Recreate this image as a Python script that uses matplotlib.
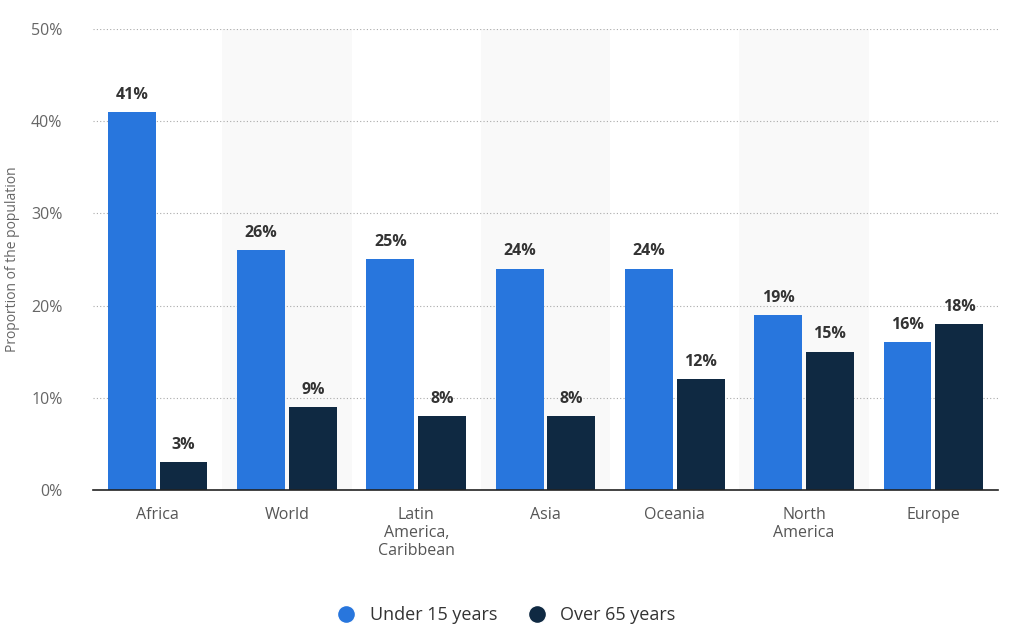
import matplotlib
matplotlib.use("Agg")
import matplotlib.pyplot as plt
import numpy as np

plt.rcParams['font.family'] = ['Open Sans', 'DejaVu Sans']

categories = ["Africa", "World", "Latin\nAmerica,\nCaribbean", "Asia", "Oceania", "North\nAmerica", "Europe"]
under15 = [41, 26, 25, 24, 24, 19, 16]
over65 = [3, 9, 8, 8, 12, 15, 18]
series_names = ["Under 15 years", "Over 65 years"]
colors = ["#2876dd", "#0f2942"]
yticks = [0, 10, 20, 30, 40, 50]

fig = plt.figure(figsize=(10.24, 6.43), dpi=100)
ax = fig.add_axes([0.0908, 0.238, 0.8838, 0.717])

x = np.arange(len(categories))
w = 0.37
off = 0.2

for i in range(len(categories)):
    if i % 2 == 1:
        ax.axvspan(i - 0.5, i + 0.5, color="#f9f9f9", zorder=0, lw=0)

for vals, c, o, name in [(under15, colors[0], -off, series_names[0]), (over65, colors[1], off, series_names[1])]:
    ax.bar(x + o, vals, width=w, color=c, zorder=3, label=name)
    for xi, v in zip(x + o, vals):
        ax.text(xi, v + 1.0, f"{v}%", ha="center", va="bottom", fontsize=11.5, fontweight="bold", color="#333333", zorder=4)

ax.set_xlim(-0.5, len(categories) - 0.5)
ax.set_ylim(0, 50)
ax.set_yticks(yticks)
ax.set_yticklabels([f"{t}%" for t in yticks], fontsize=11.5, color="#666666")
ax.set_xticks(x)
ax.set_xticklabels(categories, fontsize=11.5, color="#555555", linespacing=1.2, va="top")
ax.tick_params(axis="both", length=0)
ax.tick_params(axis="x", pad=12)
ax.tick_params(axis="y", pad=22)
ax.grid(axis="y", linestyle=(0, (1, 2)), color="#aaaaaa", lw=0.8, zorder=1)
for s in ["top", "right", "left"]:
    ax.spines[s].set_visible(False)
ax.spines["bottom"].set_color("#222222")
ax.spines["bottom"].set_linewidth(1.2)
ax.spines["bottom"].set_zorder(5)
ax.set_ylabel("Proportion of the population", fontsize=10, color="#666666", labelpad=8)

from matplotlib.lines import Line2D
handles = [Line2D([0], [0], marker="o", color="w", markerfacecolor=c, markersize=13, lw=0) for c in colors]
fig.legend(handles, series_names, loc="center", bbox_to_anchor=(0.49, 0.043), ncol=2, frameon=False,
           fontsize=13, handletextpad=0.3, columnspacing=1.2, labelcolor="#333333")

fig.savefig("out.png", dpi=100)
